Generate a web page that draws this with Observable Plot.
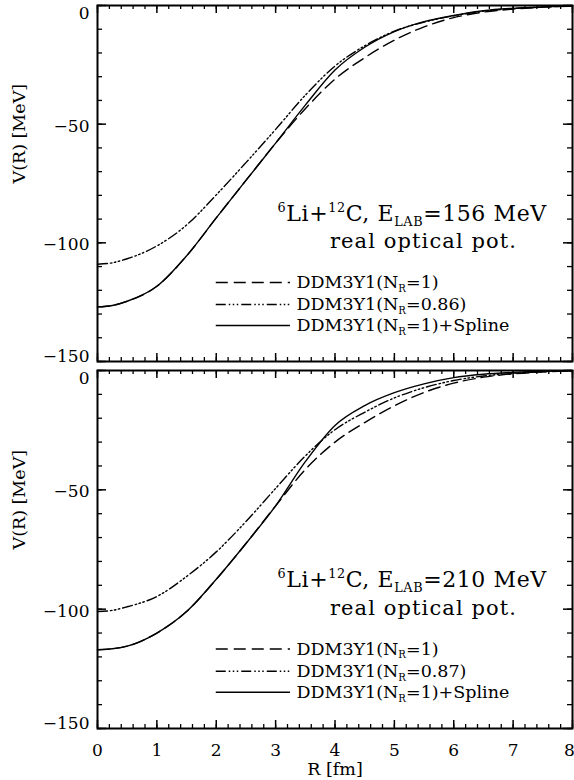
<!DOCTYPE html>
<html>
<head>
<meta charset="utf-8">
<script src="https://cdn.jsdelivr.net/npm/d3@7"></script>
<script src="https://cdn.jsdelivr.net/npm/@observablehq/plot@0.6"></script>
<style>
  body { margin: 0; background: #fff; }
  #chart svg { display: block; }
</style>
</head>
<body>
<div id="chart"></div>
<script>
// ---------- data ----------
const R = [0, 0.25, 0.5, 1, 1.5, 2, 2.5, 3, 3.5, 4, 4.5, 5, 5.5, 6, 6.5, 7, 7.5, 8];

// upper panel: E_LAB = 156 MeV
const topNR1    = [-127, -126.4, -124.6, -118.3, -105.5, -89.5, -73.7, -58, -43.5, -31, -22, -14.6, -9, -5.1, -2.8, -1.5, -0.7, -0.3];
const topNR086  = [-109, -108.4, -106.7, -101.3, -92.5, -79.8, -66.2, -52.2, -37.8, -25.5, -17, -10.8, -7, -4.3, -2.4, -1.3, -0.6, -0.2];
const topSpline = [-127, -126.4, -124.6, -118.3, -105.5, -89.5, -73.7, -58, -42, -27.2, -17.6, -11, -6.8, -4.2, -2.2, -1.2, -0.6, -0.2];

// lower panel: E_LAB = 210 MeV
const botNR1    = [-117, -116.6, -115.5, -110, -101, -87.5, -72.5, -56.7, -41.5, -30, -21.8, -14.8, -9.2, -5.3, -2.8, -1.4, -0.6, -0.2];
const botNR087  = [-101, -100.5, -99, -94.7, -86.3, -76, -63.3, -49.4, -35.8, -24.8, -17.5, -11.5, -7.2, -4.2, -2.3, -1.2, -0.5, -0.2];
const botSpline = [-117, -116.6, -115.5, -110, -101, -87.5, -72.5, -56.7, -38.2, -23, -14.7, -9.3, -5.6, -3, -1.6, -0.8, -0.3, -0.1];

const legendTop = ["DDM3Y1(N_{R}=1)", "DDM3Y1(N_{R}=0.86)", "DDM3Y1(N_{R}=1)+Spline"];
const legendBot = ["DDM3Y1(N_{R}=1)", "DDM3Y1(N_{R}=0.87)", "DDM3Y1(N_{R}=1)+Spline"];
const titleTop = ["^{6}Li+^{12}C, E_{LAB}=156 MeV", "real optical pot."];
const titleBot = ["^{6}Li+^{12}C, E_{LAB}=210 MeV", "real optical pot."];

const xMajor = [0, 1, 2, 3, 4, 5, 6, 7, 8];
const xMinor = d3.range(0, 8.001, 0.2);
const yMajor = [0, -50, -100, -150];
const yMinor = d3.range(0, -150.001, -10);
const xTitle = "R [fm]";
const yTitle = "V(R) [MeV]";

// ---------- drawing ----------
const DASH = "12,6";
const DASHDOT = "10,3,1.5,2.5,1.5,2.5,1.5,3";
const FONT = "DejaVu Serif";
const fmt = d => d < 0 ? "\u2212" + (-d) : String(d);

function panel({nr1, nrX, spline, legend, title, height, marginTop, marginBottom, xLabels}) {
  const innerH = height - marginTop - marginBottom;
  const innerW = 574 - 97 - 2;
  const rows = [-116.7, -126, -134.8];
  const pts = (ys) => R.map((r, i) => ({r, v: ys[i]}));
  const lineOpts = {x: "r", y: "v", curve: "monotone-x", stroke: "#000", strokeWidth: 1.4};
  const yAxis = (ticks, dy) => Plot.axisY({ticks, tickSize: 0, tickPadding: 8, label: null,
      tickFormat: fmt, fontSize: 17, dy});
  const marks = [
    // ticks (inward, all four sides)
    Plot.tickX(xMinor, {x: d => d, insetTop: innerH - 4, strokeWidth: 1.3}),
    Plot.tickX(xMajor, {x: d => d, insetTop: innerH - 8, strokeWidth: 1.5}),
    Plot.tickX(xMinor, {x: d => d, insetBottom: innerH - 4, strokeWidth: 1.3}),
    Plot.tickX(xMajor, {x: d => d, insetBottom: innerH - 8, strokeWidth: 1.5}),
    Plot.tickY(yMinor, {y: d => d, insetRight: innerW - 5, strokeWidth: 1.3}),
    Plot.tickY(yMajor, {y: d => d, insetRight: innerW - 9, strokeWidth: 1.5}),
    Plot.tickY(yMinor, {y: d => d, insetLeft: innerW - 5, strokeWidth: 1.3}),
    Plot.tickY(yMajor, {y: d => d, insetLeft: innerW - 9, strokeWidth: 1.5}),
    yAxis(yMajor.slice(0, 1), 8),
    yAxis(yMajor.slice(1, 3), 2),
    yAxis(yMajor.slice(3), -5),
    Plot.text([yTitle], {text: d => d, frameAnchor: "left", rotate: -90, dx: -78, fontSize: 17.5}),
    // curves
    Plot.line(pts(nr1), {...lineOpts, strokeDasharray: DASH}),
    Plot.line(pts(nrX), {...lineOpts, strokeDasharray: DASHDOT}),
    Plot.line(pts(spline), {...lineOpts}),
    // annotation
    Plot.text([title[0]], {text: d => d, x: () => 5.3, y: () => -87.7, fontSize: 22, lineAnchor: "middle"}),
    Plot.text([title[1]], {text: d => d, x: () => 5.49, y: () => -99.5, fontSize: 21, lineAnchor: "middle"}),
    // legend
    Plot.ruleY([rows[0]], {y: d => d, x1: () => 2.0, x2: () => 3.25, strokeWidth: 1.4, strokeDasharray: DASH}),
    Plot.ruleY([rows[1]], {y: d => d, x1: () => 2.0, x2: () => 3.25, strokeWidth: 1.4, strokeDasharray: DASHDOT}),
    Plot.ruleY([rows[2]], {y: d => d, x1: () => 2.0, x2: () => 3.25, strokeWidth: 1.4}),
    Plot.text(legend, {text: d => d, x: () => 3.35, y: (d, i) => rows[i], textAnchor: "start", fontSize: 17.5, lineAnchor: "middle"}),
    Plot.frame({stroke: "#000", strokeWidth: 2})
  ];
  if (xLabels) {
    marks.push(Plot.axisX({ticks: xMajor.slice(0, 8), tickSize: 0, tickPadding: 15, label: null, fontSize: 17}));
    marks.push(Plot.axisX({ticks: xMajor.slice(8), tickSize: 0, tickPadding: 15, label: null, fontSize: 17, dx: -3}));
    marks.push(Plot.text([xTitle], {text: d => d, frameAnchor: "bottom", dy: 41, fontSize: 17.5, lineAnchor: "middle"}));
  }
  return Plot.plot({
    width: 574, height, marginLeft: 97, marginRight: 2, marginTop, marginBottom,
    style: {fontFamily: FONT, fontSize: "17px", color: "#000", background: "#fff", overflow: "visible"},
    x: {domain: [0, 8], axis: null},
    y: {domain: [-150, 0], axis: null},
    marks
  });
}

function richify(svg) {
  d3.select(svg).selectAll("text").each(function () {
    const s = this.textContent;
    if (s.startsWith("^{6}")) this.setAttribute("letter-spacing", "0.6");
    if (s.startsWith("real")) this.setAttribute("letter-spacing", "1.1");
    if (!/[_^]\{/.test(s)) return;
    const fs = parseFloat(getComputedStyle(this).fontSize) || 17;
    const re = /([_^])\{([^}]*)\}|([^_^]+)/g;
    const parts = [];
    let m;
    while ((m = re.exec(s))) parts.push(m[3] !== undefined ? {t: m[3], k: ""} : {t: m[2], k: m[1]});
    this.textContent = "";
    let shift = 0;
    for (const p of parts) {
      const ts = d3.select(this).append("tspan").text(p.t);
      const target = p.k === "_" ? fs * 0.22 : p.k === "^" ? -fs * 0.38 : 0;
      if (p.k) ts.attr("font-size", (fs * 0.58).toFixed(1));
      if (target !== shift) { ts.attr("dy", (target - shift).toFixed(2)); shift = target; }
    }
  });
}

const chart = document.getElementById("chart");
const p1 = panel({nr1: topNR1, nrX: topNR086, spline: topSpline, legend: legendTop, title: titleTop,
  height: 362, marginTop: 5, marginBottom: 1, xLabels: false});
const p2 = panel({nr1: botNR1, nrX: botNR087, spline: botSpline, legend: legendBot, title: titleBot,
  height: 418, marginTop: 8, marginBottom: 52, xLabels: true});
chart.appendChild(p1);
chart.appendChild(p2);
richify(p1);
richify(p2);
</script>
</body>
</html>
